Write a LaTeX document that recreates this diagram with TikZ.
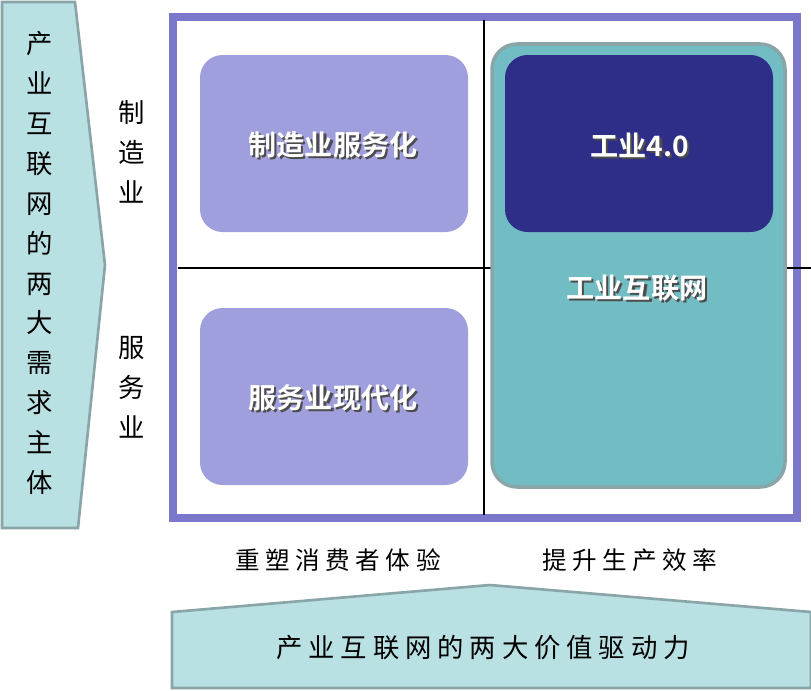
\documentclass[tikz,border=0pt]{standalone}
\usepackage{fontspec}
\setmainfont{Liberation Serif}
\newfontfamily\cjk{Noto Sans CJK SC}
\newfontfamily\cjkb{Noto Sans CJK SC Bold}
\definecolor{arrowfill}{HTML}{B9E0E3}
\definecolor{arrowline}{HTML}{8AA5A8}
\definecolor{framepurple}{HTML}{7B78CC}
\definecolor{lavender}{HTML}{A09FDD}
\definecolor{teal}{HTML}{72BCC4}
\definecolor{navy}{HTML}{2E2D88}
\newcommand{\shadowtext}[3]{%
  \node[text=black!70, font=\cjkb\fontsize{16}{18}\selectfont] at ([xshift=1.2pt,yshift=-1.2pt]#1) {#3};
  \node[text=white, font=\cjkb\fontsize{16}{18}\selectfont] (#2) at (#1) {#3};}
\begin{document}
\begin{tikzpicture}[x=0.02cm, y=-0.02cm,
    arrowshape/.style={fill=arrowfill, draw=arrowline, line width=1.5pt},
    quadbox/.style={rounded corners=0.45cm, draw=none},
    sidelabel/.style={font=\cjk\fontsize{15}{22.7}\selectfont, align=center, inner sep=0pt},
    bottomlabel/.style={font=\cjk\fontsize{14}{16}\selectfont, inner sep=0pt}
  ]
  \useasboundingbox (0,0) rectangle (811,690);
  % left arrow
  \draw[arrowshape] (2,2) -- (75,2) -- (105,265) -- (78,528) -- (2,528) -- cycle;
  \node[sidelabel] (demand) at (40,263) {产\\业\\互\\联\\网\\的\\两\\大\\需\\求\\主\\体};
  % row labels
  \node[sidelabel] (manuf) at (132,152) {制\\造\\业};
  \node[sidelabel] (service) at (132,387) {服\\务\\业};
  % frame and axes
  \coordinate (vtop) at (484,20);
  \coordinate (vbot) at (484,515);
  \coordinate (hleft) at (178,268);
  \coordinate (hright) at (811,268);
  \draw[framepurple, line width=5pt] (173,17) rectangle (797,518);
  \draw[line width=0.8pt] (vtop) -- (vbot);
  \draw[line width=0.8pt] (hleft) -- (hright);
  % quadrants
  \fill[quadbox, lavender] (200,55) rectangle (468,232);
  \fill[quadbox, lavender] (200,308) rectangle (468,485);
  \draw[rounded corners=0.5cm, fill=teal, draw=arrowline, line width=2pt] (492,44) rectangle (785,487);
  \fill[quadbox, navy] (505,55) rectangle (773,232);
  \shadowtext{333,145}{mservice}{制造业服务化}
  \shadowtext{333,398}{smodern}{服务业现代化}
  \shadowtext{640,145}{industry}{工业4.0}
  \shadowtext{637,288}{iiot}{工业互联网}
  % column labels
  \node[bottomlabel] (consumer) at (338,560) {重 塑 消 费 者 体 验};
  \node[bottomlabel] (efficiency) at (630,560) {提 升 生 产 效 率};
  % bottom arrow
  \draw[arrowshape] (172,612) -- (490,585) -- (811,612) -- (811,688) -- (172,688) -- cycle;
  \node[bottomlabel, font=\cjk\fontsize{15}{17}\selectfont] (value) at (483,648) {产 业 互 联 网 的 两 大 价 值 驱 动 力};
\end{tikzpicture}
\end{document}
